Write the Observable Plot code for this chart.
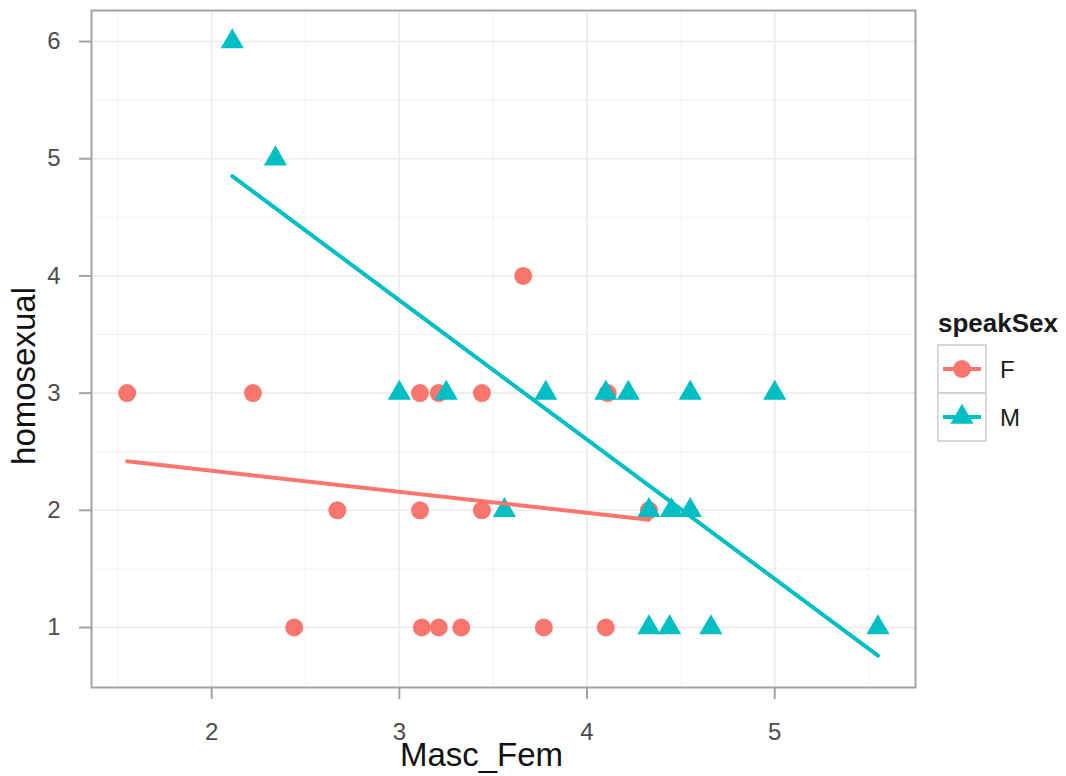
<!DOCTYPE html>
<html>
<head>
<meta charset="utf-8">
<script src="https://cdn.jsdelivr.net/npm/d3@7"></script>
<script src="https://cdn.jsdelivr.net/npm/@observablehq/plot@0.6"></script>
<style>
  html, body { margin: 0; padding: 0; background: #ffffff; }
  #wrap { position: relative; width: 1066px; height: 776px; font-family: "Liberation Sans", Arial, sans-serif; }
  #legend { position: absolute; left: 0; top: 0; pointer-events: none; }
</style>
</head>
<body>
<div id="wrap"></div>
<script>
// ---- data ----
const sexes = ["F", "M"];
const sexColors = ["#F8766D", "#00BFC4"];
const sexSymbols = ["circle", "triangle"];

const femMascFem = [1.55, 2.22, 3.11, 3.21, 3.44, 4.11, 3.66, 2.67, 3.11, 3.44, 4.33, 2.44, 3.12, 3.21, 3.33, 3.77, 4.10];
const femHomosexual = [3, 3, 3, 3, 3, 3, 4, 2, 2, 2, 2, 1, 1, 1, 1, 1, 1];

const maleMascFem = [2.11, 2.34, 3.00, 3.25, 3.78, 4.10, 4.22, 4.55, 5.00, 3.56, 4.33, 4.45, 4.55, 4.33, 4.44, 4.66, 5.55];
const maleHomosexual = [6, 5, 3, 3, 3, 3, 3, 3, 3, 2, 2, 2, 2, 1, 1, 1, 1];

const xTicks = [2, 3, 4, 5];
const yTicks = [1, 2, 3, 4, 5, 6];
const xMinor = [1.5, 2.5, 3.5, 4.5, 5.5];
const yMinor = [1.5, 2.5, 3.5, 4.5, 5.5];
const xTitle = "Masc_Fem";
const yTitle = "homosexual";
const legendTitle = "speakSex";

// ---- build rows ----
const fem = femMascFem.map((x, i) => ({Masc_Fem: x, homosexual: femHomosexual[i], speakSex: sexes[0]}));
const male = maleMascFem.map((x, i) => ({Masc_Fem: x, homosexual: maleHomosexual[i], speakSex: sexes[1]}));

const font = "'Liberation Sans', Arial, sans-serif";
const fmt = d => String(d);
const tickColor = "#A3A3A3";
const tickLabelColor = "#4D4D4D";

const chart = Plot.plot({
  width: 1066,
  height: 776,
  marginLeft: 91,
  marginRight: 151,
  marginTop: 10,
  marginBottom: 89,
  style: {fontFamily: font, background: "#ffffff"},
  x: {domain: [1.36, 5.75], label: null},
  y: {domain: [0.488, 6.265], label: null},
  marks: [
    Plot.gridX(xMinor, {stroke: "#F2F2F2", strokeOpacity: 1, strokeWidth: 1}),
    Plot.gridY(yMinor, {stroke: "#F2F2F2", strokeOpacity: 1, strokeWidth: 1}),
    Plot.gridX(xTicks, {stroke: "#EBEBEB", strokeOpacity: 1, strokeWidth: 1.6}),
    Plot.gridY(yTicks, {stroke: "#EBEBEB", strokeOpacity: 1, strokeWidth: 1.6}),
    Plot.dot(fem, {x: "Masc_Fem", y: "homosexual", r: 9, fill: sexColors[0], symbol: sexSymbols[0]}),
    Plot.dot(male, {x: "Masc_Fem", y: "homosexual", r: 8.6, fill: sexColors[1], symbol: sexSymbols[1]}),
    Plot.linearRegressionY(fem, {x: "Masc_Fem", y: "homosexual", stroke: sexColors[0], strokeWidth: 4, ci: 0}),
    Plot.linearRegressionY(male, {x: "Masc_Fem", y: "homosexual", stroke: sexColors[1], strokeWidth: 4, ci: 0}),
    Plot.frame({stroke: tickColor, strokeWidth: 2}),
    // tick marks (labels drawn separately for size control)
    Plot.axisX(xTicks, {tickSize: 12, stroke: tickColor, strokeWidth: 2, label: null, tickFormat: () => ""}),
    Plot.axisY(yTicks, {tickSize: 12, stroke: tickColor, strokeWidth: 2, label: null, tickFormat: () => ""}),
    // tick labels
    Plot.text(xTicks, {x: d => d, text: fmt, frameAnchor: "bottom", dy: 35, lineAnchor: "top", textAnchor: "middle", fontSize: 24, fill: tickLabelColor}),
    Plot.text(yTicks, {y: d => d, text: fmt, frameAnchor: "left", dx: -31, lineAnchor: "middle", textAnchor: "end", fontSize: 24, fill: tickLabelColor}),
    // axis titles
    Plot.text([xTitle], {frameAnchor: "bottom", dy: 68, dx: -22, fontSize: 33, fill: "#111111", textAnchor: "middle", lineAnchor: "middle"}),
    Plot.text([yTitle], {frameAnchor: "left", dx: -67, dy: 27, rotate: -90, fontSize: 33, fill: "#111111", textAnchor: "middle", lineAnchor: "middle"})
  ]
});

const wrap = document.getElementById("wrap");
wrap.appendChild(chart);

// ---- legend (ggplot style, right side) ----
const ns = "http://www.w3.org/2000/svg";
const leg = document.createElementNS(ns, "svg");
leg.setAttribute("id", "legend");
leg.setAttribute("width", 1066);
leg.setAttribute("height", 776);
leg.style.fontFamily = font;

function el(tag, attrs, text) {
  const e = document.createElementNS(ns, tag);
  for (const k in attrs) e.setAttribute(k, attrs[k]);
  if (text != null) e.textContent = text;
  leg.appendChild(e);
  return e;
}

el("text", {x: 938, y: 332, "font-size": 26, "font-weight": "bold", fill: "#1A1A1A"}, legendTitle);

const keyX = 938, keyTop = 345, keySize = 48;
sexes.forEach((s, i) => {
  const top = keyTop + i * keySize;
  const cy = top + keySize / 2;
  const cx = keyX + keySize / 2;
  el("rect", {x: keyX, y: top, width: keySize, height: keySize, fill: "#ffffff", stroke: "#CCCCCC", "stroke-width": 1.5});
  el("line", {x1: keyX + 5, x2: keyX + keySize - 5, y1: cy, y2: cy, stroke: sexColors[i], "stroke-width": 4});
  const sym = i === 0 ? d3.symbolCircle : d3.symbolTriangle;
  const r = i === 0 ? 9 : 8.6;
  el("path", {d: d3.symbol(sym, Math.PI * r * r)(), transform: `translate(${cx},${cy})`, fill: sexColors[i]});
  el("text", {x: 1000, y: cy, "font-size": 24, fill: "#1A1A1A", "dominant-baseline": "central"}, s);
});

wrap.appendChild(leg);
</script>
</body>
</html>
